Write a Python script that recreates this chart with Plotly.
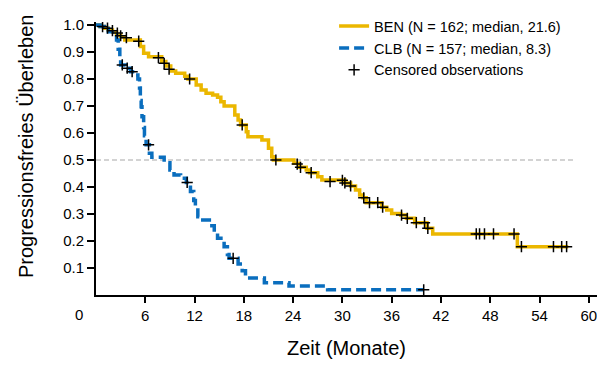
import plotly.graph_objects as go

# ---- data ----
ben_t = [0, 0.5, 1.0, 1.5, 2.0, 2.5, 3.0, 3.5, 5.4, 5.8, 6.4, 8.0, 8.5, 9.1, 9.7, 10.8, 11.2,
         12.2, 12.8, 13.4, 14.2, 14.8, 15.2, 15.6, 16.9, 17.3, 17.6, 18.3, 18.5, 20.2, 21.0,
         21.4, 21.6, 24.1, 24.7, 25.6, 26.0, 27.0, 27.5, 30.3, 31.0, 31.6, 32.1, 32.5, 32.9,
         34.8, 35.4, 36.0, 37.1, 37.8, 38.8, 40.3, 41.0, 51.3, 57.5]
ben_s = [1.0, 0.994, 0.988, 0.981, 0.975, 0.963, 0.956, 0.944, 0.92, 0.895, 0.882, 0.865, 0.848,
         0.83, 0.821, 0.81, 0.80, 0.778, 0.759, 0.747, 0.741, 0.732, 0.716, 0.70, 0.667, 0.648,
         0.63, 0.605, 0.586, 0.574, 0.543, 0.512, 0.50, 0.488, 0.473, 0.463, 0.453, 0.438, 0.426,
         0.415, 0.404, 0.389, 0.37, 0.36, 0.342, 0.325, 0.315, 0.302, 0.296, 0.284, 0.268, 0.247,
         0.226, 0.179, 0.179]

clb_t = [0, 0.5, 1.0, 1.5, 2.0, 2.5, 2.7, 2.9, 3.0, 3.6, 4.2, 4.8, 5.1, 5.3, 5.4, 5.5, 5.6, 5.8,
         5.9, 6.1, 6.5, 6.8, 8.3, 9.0, 9.5, 10.3, 11.0, 11.5, 11.9, 12.1, 12.4, 13.0, 13.8, 14.4,
         14.8, 15.6, 16.0, 16.2, 17.3, 17.8, 18.2, 20.5, 23.5, 28.2, 39.9]
clb_s = [1.0, 0.994, 0.987, 0.975, 0.963, 0.944, 0.91, 0.87, 0.852, 0.84, 0.827, 0.815, 0.80,
         0.767, 0.72, 0.697, 0.66, 0.62, 0.59, 0.556, 0.525, 0.51, 0.49, 0.463, 0.444, 0.432,
         0.417, 0.383, 0.35, 0.327, 0.29, 0.278, 0.256, 0.234, 0.21, 0.179, 0.15, 0.136, 0.115,
         0.09, 0.063, 0.045, 0.033, 0.019, 0.019]

ben_cens_t = [0.8, 1.4, 2.0, 2.6, 3.0, 3.7, 5.2, 7.6, 8.3, 8.9, 11.4, 17.8, 21.9, 24.5, 24.9,
              26.2, 28.5, 30.0, 30.3, 31.0, 32.6, 33.3, 34.3, 34.9, 37.2, 37.9, 39.0, 40.0, 40.4,
              46.3, 46.7, 47.3, 48.4, 50.9, 51.8, 55.7, 56.7, 57.3]
ben_cens_s = [0.994, 0.988, 0.979, 0.97, 0.96, 0.953, 0.94, 0.879, 0.858, 0.836, 0.80, 0.63, 0.50,
              0.485, 0.473, 0.453, 0.42, 0.425, 0.415, 0.404, 0.36, 0.342, 0.342, 0.325, 0.296,
              0.284, 0.268, 0.268, 0.247, 0.226, 0.226, 0.226, 0.226, 0.226, 0.179, 0.179, 0.179,
              0.179]
clb_cens_t = [3.2, 3.8, 4.4, 6.4, 11.1, 16.7, 39.9]
clb_cens_s = [0.852, 0.84, 0.827, 0.556, 0.417, 0.136, 0.019]

x_ticks = [6, 12, 18, 24, 30, 36, 42, 48, 54, 60]
y_ticks = [0.1, 0.2, 0.3, 0.4, 0.5, 0.6, 0.7, 0.8, 0.9, 1.0]

ben_label = "BEN (N = 162; median, 21.6)"
clb_label = "CLB (N = 157; median, 8.3)"
cens_label = "Censored observations"

YELLOW = "#EBB700"
BLUE = "#0A6EBE"

fig = go.Figure()

# median reference line
fig.add_shape(type="line", x0=0, x1=58.4, y0=0.5, y1=0.5, xref="x", yref="y",
              line=dict(color="#A8A8A8", width=1.2, dash="5px,3px"), layer="below")

fig.add_trace(go.Scatter(x=ben_t, y=ben_s, mode="lines", line_shape="hv",
                         line=dict(color=YELLOW, width=3.5), name=ben_label,
                         legendgroup="a"))
fig.add_trace(go.Scatter(x=clb_t, y=clb_s, mode="lines", line_shape="hv",
                         line=dict(color=BLUE, width=3.5, dash="10px,5px"), name=clb_label,
                         legendgroup="b"))
fig.add_trace(go.Scatter(x=ben_cens_t, y=ben_cens_s, mode="markers",
                         marker=dict(symbol="cross-thin", size=8, color="black",
                                     line=dict(color="black", width=1.5)),
                         name=cens_label, legendgroup="c"))
fig.add_trace(go.Scatter(x=clb_cens_t, y=clb_cens_s, mode="markers",
                         marker=dict(symbol="cross-thin", size=8, color="black",
                                     line=dict(color="black", width=1.5)),
                         name=cens_label, legendgroup="c", showlegend=False))

fig.update_layout(
    width=605, height=365,
    margin=dict(l=88, r=16, t=14, b=78, autoexpand=False),
    plot_bgcolor="white", paper_bgcolor="white",
    font=dict(family="Liberation Sans, Arial, sans-serif", color="black", size=15),
    showlegend=True,
    legend=dict(xref="container", x=0.539, xanchor="left",
                yref="container", y=0.994, yanchor="top",
                bgcolor="rgba(0,0,0,0)", font=dict(size=14.5),
                traceorder="grouped", tracegroupgap=0),
    xaxis=dict(range=[0, 61], tickvals=x_ticks, ticks="outside", ticklen=6, tickwidth=1.5,
               tickcolor="black", showline=True, linewidth=2, linecolor="black",
               showgrid=False, zeroline=False, tickfont=dict(size=15),
               title=dict(text="Zeit (Monate)", font=dict(size=20), standoff=18)),
    yaxis=dict(range=[0, 1.011], tickvals=y_ticks, tickformat=".1f", ticks="outside",
               ticklen=7, tickwidth=1.5, tickcolor="black", showline=True, linewidth=2,
               linecolor="black", showgrid=False, zeroline=False, tickfont=dict(size=15)),
    annotations=[
        dict(text="0", xref="x", x=0, yref="paper", y=0, xanchor="center", yanchor="middle",
             xshift=-17, yshift=-19, showarrow=False, font=dict(size=15)),
        dict(text="Progressionsfreies Überleben", xref="paper", x=0, xshift=-70,
             xanchor="center", yanchor="middle",
             yref="paper", y=0.542, textangle=-90, showarrow=False, font=dict(size=20)),
    ],
)

fig.write_html("out.html")
